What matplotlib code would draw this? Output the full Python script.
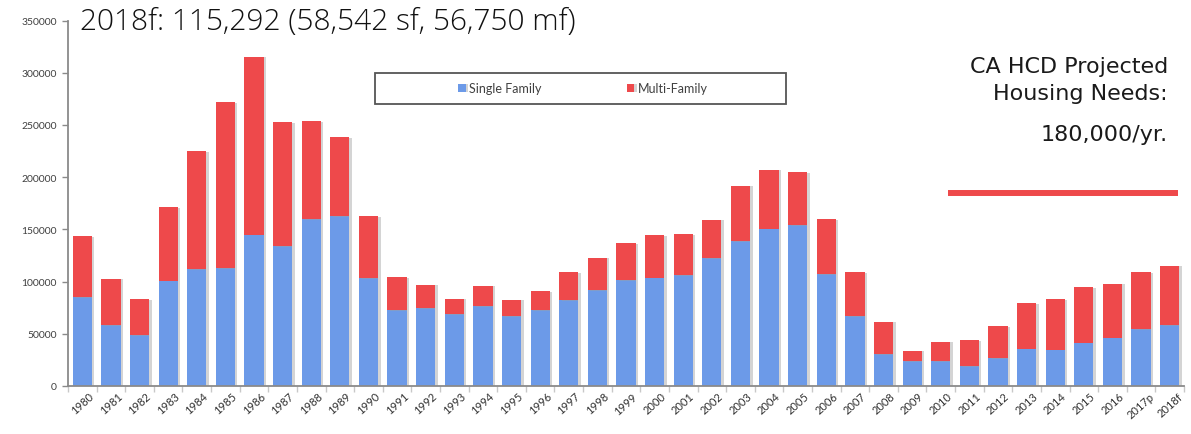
import matplotlib
matplotlib.use("Agg")
import matplotlib.pyplot as plt
import matplotlib.patheffects as pe
from matplotlib.lines import Line2D
from matplotlib.patches import Rectangle
import numpy as np

years = ["1980", "1981", "1982", "1983", "1984", "1985", "1986", "1987", "1988", "1989",
         "1990", "1991", "1992", "1993", "1994", "1995", "1996", "1997", "1998", "1999",
         "2000", "2001", "2002", "2003", "2004", "2005", "2006", "2007", "2008", "2009",
         "2010", "2011", "2012", "2013", "2014", "2015", "2016", "2017p", "2018f"]

single_family = [85000, 58200, 49000, 101000, 112000, 113000, 145000, 133600, 159800, 162400,
                 103600, 72500, 75000, 68500, 76800, 66700, 72300, 82600, 92000, 101700,
                 103800, 106000, 122300, 139000, 150800, 154000, 107000, 66800, 30600, 23900,
                 23900, 19400, 26400, 35800, 34800, 41600, 46400, 54200, 58542]

total_units = [143700, 102800, 83600, 171600, 224800, 272200, 315500, 252600, 253500, 238200,
               162700, 104500, 97100, 83700, 96200, 82800, 91100, 109000, 123000, 137100,
               144800, 145800, 159300, 191900, 207200, 204600, 159900, 108900, 61700, 33900,
               42500, 44200, 57500, 79600, 83600, 94800, 98000, 109200, 115292]

multi_family = [t - s for t, s in zip(total_units, single_family)]

title_text = "2018f: 115,292 (58,542 sf, 56,750 mf)"
note_lines = ["CA HCD Projected", "Housing Needs:"]
note_value = "180,000/yr."

BLUE = "#6C9AE8"
RED = "#EE494B"
GRAY = "#8a8a8a"

W, H = 1191, 435
fig = plt.figure(figsize=(W / 100, H / 100), dpi=100)
ax = fig.add_axes([68 / W, 1 - 387 / H, 1116 / W, 365.5 / H])

x = np.arange(len(years))
shadow = [pe.SimplePatchShadow(offset=(1.8, -0.6), shadow_rgbFace="#a0a0a0", alpha=0.45), pe.Normal()]
b1 = ax.bar(x, single_family, width=0.67, color=BLUE, label="Single Family", zorder=2)
b2 = ax.bar(x, multi_family, width=0.67, bottom=single_family, color=RED, label="Multi-Family", zorder=2)
for p in list(b1) + list(b2):
    p.set_path_effects(shadow)

ax.set_xlim(-0.5, len(years) - 0.5)
ax.set_ylim(0, 350000)
ax.set_yticks(np.arange(0, 350001, 50000))
ax.set_yticklabels([str(v) for v in range(0, 350001, 50000)], fontsize=7.5, color="#404040", family="Lato")
ax.set_xticks(x)
ax.set_xticklabels(years, rotation=42, ha="center", fontsize=8, color="#303030", family="Lato")
ax.set_xticks(np.arange(-0.5, len(years), 1), minor=True)
ax.tick_params(axis="x", which="major", length=0, pad=3)
ax.tick_params(axis="x", which="minor", length=4, color="#c8c8c8", width=1)
ax.tick_params(axis="y", which="major", length=4, color=GRAY, width=1, pad=4)

for s in ["top", "right"]:
    ax.spines[s].set_visible(False)
for s in ["left", "bottom"]:
    ax.spines[s].set_color(GRAY)
    ax.spines[s].set_linewidth(1.3)

# legend frame drawn as figure rectangle, entries via legend without frame
fig.patches.append(Rectangle((375 / W, 1 - 104.5 / H), (786 - 375) / W, 31 / H,
                             transform=fig.transFigure, fill=False, edgecolor="#555555",
                             linewidth=1.3, zorder=5))
leg = fig.legend(loc="center left", bbox_to_anchor=(458 / W, 1 - 89 / H),
                 ncol=2, frameon=False, handlelength=0.6, handleheight=0.6,
                 handletextpad=0.3, columnspacing=6.8, borderpad=0, borderaxespad=0,
                 prop={"family": "Lato", "size": 9})
for t in leg.get_texts():
    t.set_color("#404040")

fig.text(80 / W, 1 - 22 / H, title_text, fontsize=21.5, family="Open Sans", fontweight="light",
         color="#111111", ha="left", va="center")

for txt, yy in [(note_lines[0], 67), (note_lines[1], 94), (note_value, 135)]:
    fig.text(1168 / W, 1 - yy / H, txt, fontsize=16, family="DejaVu Sans", color="#1a1a1a",
             ha="right", va="center")

ax.add_line(Line2D([(948 - 68) / 1116, (1178 - 68) / 1116], [(387 - 194) / 365.5] * 2,
                   transform=ax.transAxes, color=RED, linewidth=4.3, solid_capstyle="butt"))

fig.savefig("out.png", dpi=100)
